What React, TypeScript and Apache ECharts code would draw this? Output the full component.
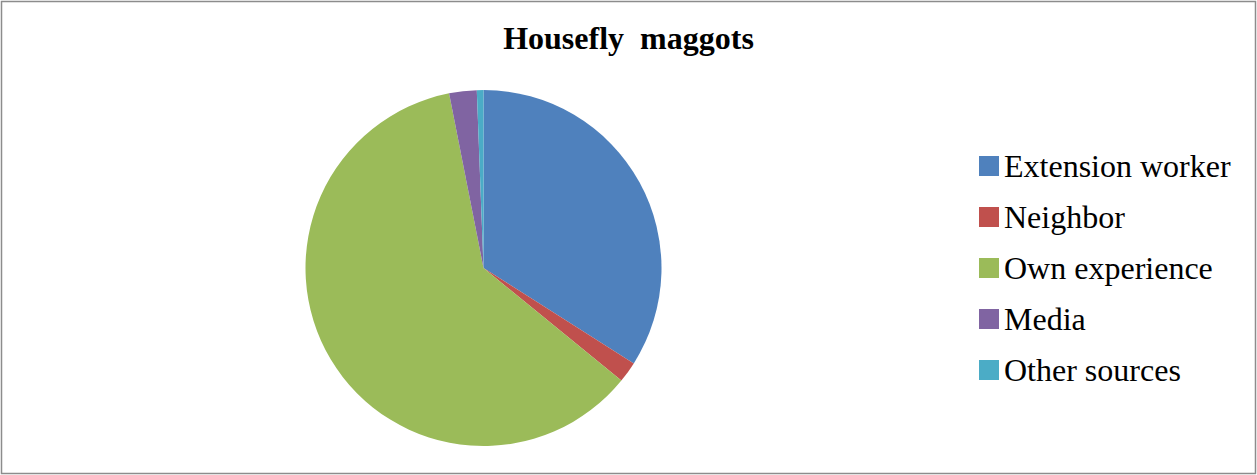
import React, { useEffect, useRef } from "react";
import * as echarts from "echarts";

const titleText = "Housefly  maggots";
const categories = ["Extension worker", "Neighbor", "Own experience", "Media", "Other sources"];
const values = [34.0, 1.9, 61.0, 2.5, 0.6];
const colors = ["#4F81BD", "#C0504D", "#9BBB59", "#8064A2", "#4BACC6"];

export default function App() {
  const ref = useRef<HTMLDivElement>(null);
  useEffect(() => {
    document.body.style.margin = "0";
    const chart = echarts.init(ref.current!, null, { renderer: "svg" });
    chart.setOption({
      animation: false,
      backgroundColor: "#ffffff",
      title: {
        text: titleText,
        left: "center",
        top: 17,
        textStyle: {
          fontFamily: "Liberation Serif",
          fontSize: 32,
          fontWeight: "bold",
          color: "#000000",
        },
      },
      legend: {
        orient: "vertical",
        left: 974,
        top: 145,
        itemWidth: 20,
        itemHeight: 20,
        itemGap: 19,
        icon: "rect",
        data: categories,
        textStyle: {
          fontFamily: "Liberation Serif",
          fontSize: 32,
          lineHeight: 31,
          color: "#000000",
        },
      },
      graphic: [
        {
          type: "rect",
          shape: { x: 1.5, y: 1.5, width: 1254, height: 472 },
          style: { fill: "none", stroke: "#8c8c8c", lineWidth: 1.5 },
          silent: true,
        },
      ],
      series: [
        {
          type: "pie",
          center: [483.5, 268],
          radius: 178,
          startAngle: 90,
          clockwise: true,
          label: { show: false },
          labelLine: { show: false },
          emphasis: { disabled: true },
          itemStyle: { borderWidth: 0 },
          data: categories.map((name, i) => ({
            name,
            value: values[i],
            itemStyle: { color: colors[i] },
          })),
        },
      ],
    });
    return () => chart.dispose();
  }, []);
  return <div ref={ref} style={{ width: 1257, height: 475 }} />;
}
